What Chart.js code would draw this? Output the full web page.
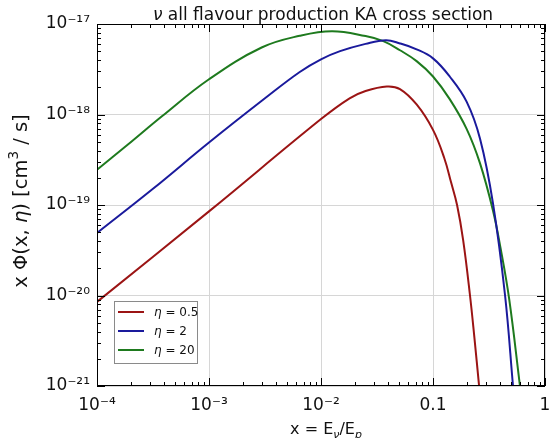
<!DOCTYPE html>
<html>
<head>
<meta charset="utf-8">
<script src="https://cdn.jsdelivr.net/npm/chart.js@4.4.0/dist/chart.umd.min.js"></script>
<style>
    html, body { margin: 0; padding: 0; background: #fff; }
</style>
</head>
<body>
<canvas id="chart" width="550" height="438"></canvas>
<script>
// eta = 0.5
const redX = [1e-4, 1e-3, 1e-2, 0.018, 0.025, 0.0387, 0.0507, 0.0714, 0.1, 0.126, 0.145, 0.164, 0.186, 0.214, 0.234, 0.258];
const redY = [8.5e-21, 8.5e-20, 8.9e-19, 1.51e-18, 1.82e-18, 2.04e-18, 1.91e-18, 1.29e-18, 6.76e-19, 3.31e-19, 1.78e-19, 1e-19, 4.07e-20, 1e-20, 3.47e-21, 1e-21];
// eta = 2
const blueX = [1e-4, 3.16e-4, 1e-3, 3.16e-3, 6.46e-3, 0.01, 0.0148, 0.025, 0.038, 0.0507, 0.0714, 0.1, 0.141, 0.2, 0.263, 0.343, 0.44, 0.518];
const blueY = [4.9e-20, 1.51e-19, 4.9e-19, 1.51e-18, 2.95e-18, 4.07e-18, 5.01e-18, 6.03e-18, 6.61e-18, 6.1e-18, 5.25e-18, 4.17e-18, 2.63e-18, 1.38e-18, 5.4e-19, 1.05e-19, 1e-20, 1e-21];
// eta = 20
const greenX = [1e-4, 1.9e-4, 3.8e-4, 1e-3, 2.95e-3, 6.46e-3, 0.0126, 0.025, 0.036, 0.0507, 0.0714, 0.1, 0.141, 0.2, 0.263, 0.343, 0.4, 0.479, 0.598];
const greenY = [2.45e-19, 4.68e-19, 9.55e-19, 2.45e-18, 5.5e-18, 7.41e-18, 8.32e-18, 7.35e-18, 6.46e-18, 5.13e-18, 3.89e-18, 2.63e-18, 1.48e-18, 6.9e-19, 2.88e-19, 8.7e-20, 3.4e-20, 9.1e-21, 1e-21];

const seriesNames = ['0.5', '2', '20'];
const seriesColors = ['#9b1414', '#1a1a9c', '#1e7a1e'];

const xMajor = [1e-4, 1e-3, 1e-2, 0.1, 1];
const xMajorLabels = ['10⁻⁴', '10⁻³', '10⁻²', '0.1', '1'];
const yMajor = [1e-21, 1e-20, 1e-19, 1e-18, 1e-17];
const yMajorLabels = ['10⁻²¹', '10⁻²⁰', '10⁻¹⁹', '10⁻¹⁸', '10⁻¹⁷'];

const FONT = 'DejaVu Sans';

const toPoints = (xs, ys) => xs.map((x, i) => ({ x: x, y: ys[i] }));
const isMajor = v => Math.abs(Math.log10(v) - Math.round(Math.log10(v))) < 1e-6;

function logTicks(majors) {
    const out = [];
    majors.forEach((m, i) => {
        out.push({ value: m });
        if (i < majors.length - 1) {
            for (let k = 2; k <= 9; k++) out.push({ value: m * k });
        }
    });
    return out;
}

function majorLabel(v, majors, labels) {
    const idx = majors.findIndex(m => Math.abs(Math.log10(m) - Math.log10(v)) < 1e-6);
    return idx >= 0 ? labels[idx] : '';
}

// draw a run of text pieces with different fonts: [text, font, dy]
function drawRuns(ctx, runs, x, y) {
    let total = 0;
    runs.forEach(r => { ctx.font = r[1]; total += ctx.measureText(r[0]).width; });
    let cx = x - total / 2;
    runs.forEach(r => {
        ctx.font = r[1];
        ctx.fillText(r[0], cx, y + (r[2] || 0));
        cx += ctx.measureText(r[0]).width;
    });
}

const decorations = {
    id: 'decorations',
    afterDraw(chart) {
        const { ctx, chartArea: a, scales: { x, y } } = chart;
        ctx.save();
        ctx.strokeStyle = '#000';
        ctx.lineWidth = 1;
        ctx.strokeRect(a.left + 0.5, a.top + 0.5, a.right - a.left - 1, a.bottom - a.top - 1);

        ctx.beginPath();
        x.ticks.forEach(t => {
            const p = Math.round(x.getPixelForValue(t.value)) + 0.5;
            const len = isMajor(t.value) ? 8 : 4;
            ctx.moveTo(p, a.bottom); ctx.lineTo(p, a.bottom - len);
            ctx.moveTo(p, a.top); ctx.lineTo(p, a.top + len);
        });
        y.ticks.forEach(t => {
            const p = Math.round(y.getPixelForValue(t.value)) + 0.5;
            const len = isMajor(t.value) ? 8 : 4;
            ctx.moveTo(a.left, p); ctx.lineTo(a.left + len, p);
            ctx.moveTo(a.right, p); ctx.lineTo(a.right - len, p);
        });
        ctx.stroke();

        ctx.fillStyle = '#111';
        ctx.textBaseline = 'alphabetic';
        // title
        drawRuns(ctx, [
            ['ν', 'italic 17px ' + FONT],
            [' all flavour production KA cross section', '17px ' + FONT]
        ], 323, 20);

        // x axis title
        drawRuns(ctx, [
            ['x = E', '16px ' + FONT],
            ['ν', 'italic 11px ' + FONT, 4],
            ['/E', '16px ' + FONT],
            ['p', 'italic 11px ' + FONT, 4]
        ], 326, 434);

        // y axis title
        ctx.save();
        ctx.translate(27, 201);
        ctx.rotate(-Math.PI / 2);
        drawRuns(ctx, [
            ['x Φ(x, ', '19.5px ' + FONT],
            ['η', 'italic 19.5px ' + FONT],
            [') [cm', '19.5px ' + FONT],
            ['3', '13.5px ' + FONT, -9],
            [' / s]', '19.5px ' + FONT]
        ], 0, 0);
        ctx.restore();

        // legend
        const lx = 114, ly = 301, lw = 83, lh = 62;
        ctx.fillStyle = '#fff';
        ctx.fillRect(lx, ly, lw, lh);
        ctx.strokeStyle = '#8a8a8a';
        ctx.lineWidth = 1;
        ctx.strokeRect(lx + 0.5, ly + 0.5, lw, lh);
        const rows = [312, 331, 350];
        seriesNames.forEach((name, i) => {
            ctx.strokeStyle = seriesColors[i];
            ctx.lineWidth = 2;
            ctx.beginPath();
            ctx.moveTo(118, rows[i]);
            ctx.lineTo(144, rows[i]);
            ctx.stroke();
            ctx.fillStyle = '#111';
            ctx.font = 'italic 12px ' + FONT;
            ctx.fillText('η', 154, rows[i] + 4);
            const w = ctx.measureText('η').width;
            ctx.font = '12px ' + FONT;
            ctx.fillText(' = ' + name, 154 + w, rows[i] + 4);
        });
        ctx.restore();
    }
};

const makeSet = (xs, ys, i) => ({
    label: 'η = ' + seriesNames[i],
    data: toPoints(xs, ys),
    borderColor: seriesColors[i],
    borderWidth: 2,
    pointRadius: 0,
    fill: false,
    tension: 0.4
});

new Chart(document.getElementById('chart').getContext('2d'), {
    type: 'line',
    data: {
        datasets: [
            makeSet(redX, redY, 0),
            makeSet(blueX, blueY, 1),
            makeSet(greenX, greenY, 2)
        ]
    },
    options: {
        responsive: false,
        devicePixelRatio: 1,
        animation: false,
        layout: { padding: { top: 24, right: 0, left: 0, bottom: 0 } },
        plugins: {
            legend: { display: false },
            title: { display: false },
            tooltip: { enabled: false }
        },
        scales: {
            x: {
                type: 'logarithmic',
                min: 1e-4,
                max: 1,
                afterBuildTicks: s => { s.ticks = logTicks(xMajor); },
                afterFit: s => {
                    s.height = 52;
                    s.paddingLeft = 0;
                    s.paddingRight = 5;
                },
                border: { display: false },
                grid: {
                    drawTicks: false,
                    color: c => (c.tick && isMajor(c.tick.value) ? '#d6d6d6' : 'rgba(0,0,0,0)'),
                    lineWidth: 1
                },
                ticks: {
                    autoSkip: false,
                    maxRotation: 0,
                    padding: 9,
                    color: '#111',
                    font: { family: FONT, size: 17 },
                    callback: v => majorLabel(v, xMajor, xMajorLabels)
                }
            },
            y: {
                type: 'logarithmic',
                min: 1e-21,
                max: 1e-17,
                afterBuildTicks: s => { s.ticks = logTicks(yMajor); },
                afterFit: s => { s.width = 97; },
                border: { display: false },
                grid: {
                    drawTicks: false,
                    color: c => (c.tick && isMajor(c.tick.value) ? '#d6d6d6' : 'rgba(0,0,0,0)'),
                    lineWidth: 1
                },
                ticks: {
                    autoSkip: false,
                    padding: 7,
                    color: '#111',
                    font: { family: FONT, size: 17 },
                    callback: v => majorLabel(v, yMajor, yMajorLabels)
                }
            }
        }
    },
    plugins: [decorations]
});
</script>
</body>
</html>
